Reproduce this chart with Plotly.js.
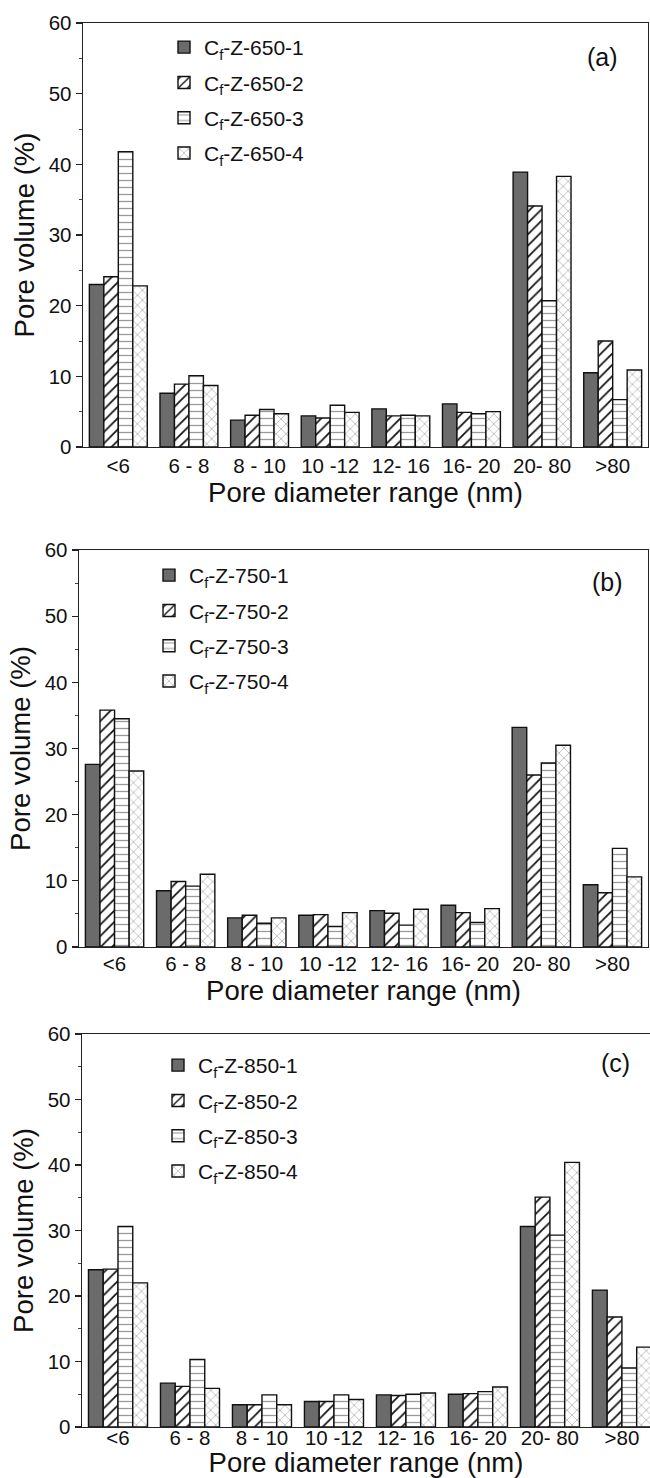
<!DOCTYPE html>
<html>
<head>
<meta charset="utf-8">
<script src="https://cdn.plot.ly/plotly-3.0.1.min.js"></script>
<style>
  html, body { margin: 0; padding: 0; background: #fff; }
  #chart { width: 650px; height: 1478px; }
</style>
</head>
<body>
<div id="chart"></div>
<script>
// ---------- data ----------
const categories = ['<6', '6 - 8', '8 - 10', '10 -12', '12- 16', '16- 20', '20- 80', '>80'];

const seriesNamesA = ['C<sub>f</sub>-Z-650-1', 'C<sub>f</sub>-Z-650-2', 'C<sub>f</sub>-Z-650-3', 'C<sub>f</sub>-Z-650-4'];
const seriesNamesB = ['C<sub>f</sub>-Z-750-1', 'C<sub>f</sub>-Z-750-2', 'C<sub>f</sub>-Z-750-3', 'C<sub>f</sub>-Z-750-4'];
const seriesNamesC = ['C<sub>f</sub>-Z-850-1', 'C<sub>f</sub>-Z-850-2', 'C<sub>f</sub>-Z-850-3', 'C<sub>f</sub>-Z-850-4'];

// Panel (a) 650 °C
const a1 = [23.0, 7.6, 3.8, 4.4, 5.4, 6.1, 38.9, 10.5];
const a2 = [24.1, 8.9, 4.5, 4.1, 4.4, 4.9, 34.1, 15.0];
const a3 = [41.8, 10.1, 5.3, 5.9, 4.5, 4.7, 20.7, 6.7];
const a4 = [22.8, 8.7, 4.7, 4.9, 4.4, 5.0, 38.3, 10.9];

// Panel (b) 750 °C
const b1 = [27.6, 8.5, 4.4, 4.8, 5.5, 6.3, 33.2, 9.4];
const b2 = [35.8, 9.9, 4.8, 4.9, 5.1, 5.2, 26.0, 8.2];
const b3 = [34.5, 9.2, 3.6, 3.1, 3.3, 3.7, 27.8, 14.9];
const b4 = [26.6, 11.0, 4.4, 5.2, 5.7, 5.8, 30.5, 10.6];

// Panel (c) 850 °C
const c1 = [24.0, 6.7, 3.4, 3.9, 4.9, 5.0, 30.6, 20.9];
const c2 = [24.1, 6.2, 3.4, 3.9, 4.8, 5.1, 35.1, 16.8];
const c3 = [30.6, 10.3, 4.9, 4.9, 5.0, 5.4, 29.3, 9.0];
const c4 = [22.0, 5.9, 3.4, 4.2, 5.2, 6.1, 40.4, 12.2];

const yTickVals = [0, 10, 20, 30, 40, 50, 60];
const panelLabels = ['(a)', '(b)', '(c)'];

// ---------- styles ----------
const FONT = '"Liberation Sans", Arial, sans-serif';
const OUTLINE = {color: '#111', width: 1.4};
const styles = [
  {color: '#6b6b6b'},
  {color: '#ffffff', pattern: {shape: '/', fgcolor: '#111', bgcolor: '#ffffff', size: 8, solidity: 0.22}},
  {color: '#ffffff', pattern: {shape: '-', fgcolor: '#9a9a9a', bgcolor: '#ffffff', size: 7, solidity: 0.18}},
  {color: '#ffffff', pattern: {shape: 'x', fgcolor: '#8a8a8a', bgcolor: '#ffffff', size: 7, solidity: 0.14}}
];

const panels = [
  {names: seriesNamesA, data: [a1, a2, a3, a4], xa: 'x',  ya: 'y',  leg: 'legend'},
  {names: seriesNamesB, data: [b1, b2, b3, b4], xa: 'x2', ya: 'y2', leg: 'legend2'},
  {names: seriesNamesC, data: [c1, c2, c3, c4], xa: 'x3', ya: 'y3', leg: 'legend3'}
];

const traces = [];
panels.forEach((p, pi) => {
  p.data.forEach((vals, si) => {
    const m = Object.assign({}, styles[si], {line: OUTLINE});
    traces.push({
      type: 'bar',
      x: categories,
      y: vals,
      name: p.names[si],
      xaxis: p.xa,
      yaxis: p.ya,
      legend: p.leg,
      legendgroup: 'p' + pi + 's' + si,
      marker: m,
      hoverinfo: 'x+y+name'
    });
  });
});

// ---------- layout geometry (pixels) ----------
const W = 650, H = 1478;
const plotTop = 23, plotBottom = 1427;
const PH = plotBottom - plotTop;
function yd(topPx, botPx) { return [(plotBottom - botPx) / PH, (plotBottom - topPx) / PH]; }
function xd(l, r) { return [l / W, r / W]; }
function py(px) { return (plotBottom - px) / PH; }

const boxes = [
  {x: xd(83, 648), y: yd(23, 447), xr: [-0.5, 7.5], mirrorY: true, lblShift: 0, titleGap: 0},
  {x: xd(79, 648), y: yd(550, 947), xr: [-0.5, 7.5], mirrorY: true, lblShift: -2, titleGap: 0},
  {x: xd(82, 650), y: yd(1034, 1427), xr: [-0.5, 7.39], mirrorY: false, lblShift: -8, titleGap: 4}
];

const TICK_SIZE = 20.5, TITLE_SIZE = 27.5;

function xaxis(b, anchor) {
  return {
    domain: b.x, anchor: anchor, type: 'category',
    range: b.xr,
    showline: true, linecolor: '#222', linewidth: 1.4, mirror: true,
    ticks: '', showgrid: false, zeroline: false,
    ticklabelstandoff: b.lblShift,
    tickfont: {family: FONT, size: TICK_SIZE, color: '#111'},
    title: {text: 'Pore diameter range (nm)', font: {family: FONT, size: TITLE_SIZE, color: '#111'}, standoff: b.titleGap},
    automargin: false, fixedrange: true
  };
}
function yaxis(b, anchor) {
  return {
    domain: b.y, anchor: anchor,
    range: [0, 60], tickvals: yTickVals,
    showline: true, linecolor: '#222', linewidth: 1.4, mirror: b.mirrorY,
    ticks: 'outside', ticklen: 6, tickwidth: 1.2, tickcolor: '#222',
    minor: {dtick: 5, ticks: 'outside', ticklen: 3, tickwidth: 1, tickcolor: '#444'},
    showgrid: false, zeroline: false,
    tickfont: {family: FONT, size: TICK_SIZE, color: '#111'},
    title: {text: 'Pore volume (%)', font: {family: FONT, size: TITLE_SIZE, color: '#111'}, standoff: 6},
    automargin: false, fixedrange: true
  };
}
function legend(xpx, ypx) {
  return {
    x: xpx / W, y: py(ypx), xanchor: 'left', yanchor: 'top',
    bgcolor: 'rgba(0,0,0,0)', borderwidth: 0,
    font: {family: FONT, size: 21, color: '#111'},
    tracegroupgap: 5, itemwidth: 30
  };
}
function label(text, xpx, ypx) {
  return {text: text, xref: 'paper', yref: 'paper', x: xpx / W, y: py(ypx),
          xanchor: 'center', yanchor: 'middle', showarrow: false,
          font: {family: FONT, size: 25, color: '#111'}};
}

const layout = {
  width: W, height: H,
  margin: {l: 0, r: 0, t: plotTop, b: H - plotBottom, pad: 0},
  paper_bgcolor: '#fff', plot_bgcolor: '#fff',
  barmode: 'group', bargap: 0.18, bargroupgap: 0,
  font: {family: FONT, color: '#111'},
  xaxis: xaxis(boxes[0], 'y'),
  yaxis: yaxis(boxes[0], 'x'),
  xaxis2: xaxis(boxes[1], 'y2'),
  yaxis2: yaxis(boxes[1], 'x2'),
  xaxis3: xaxis(boxes[2], 'y3'),
  yaxis3: yaxis(boxes[2], 'x3'),
  legend: legend(164, 27),
  legend2: legend(149, 555),
  legend3: legend(158, 1045),
  annotations: [
    label(panelLabels[0], 602, 57),
    label(panelLabels[1], 607, 582),
    label(panelLabels[2], 615, 1063)
  ],
  showlegend: true
};

Plotly.newPlot('chart', traces, layout, {displayModeBar: false, staticPlot: true});
</script>
</body>
</html>
